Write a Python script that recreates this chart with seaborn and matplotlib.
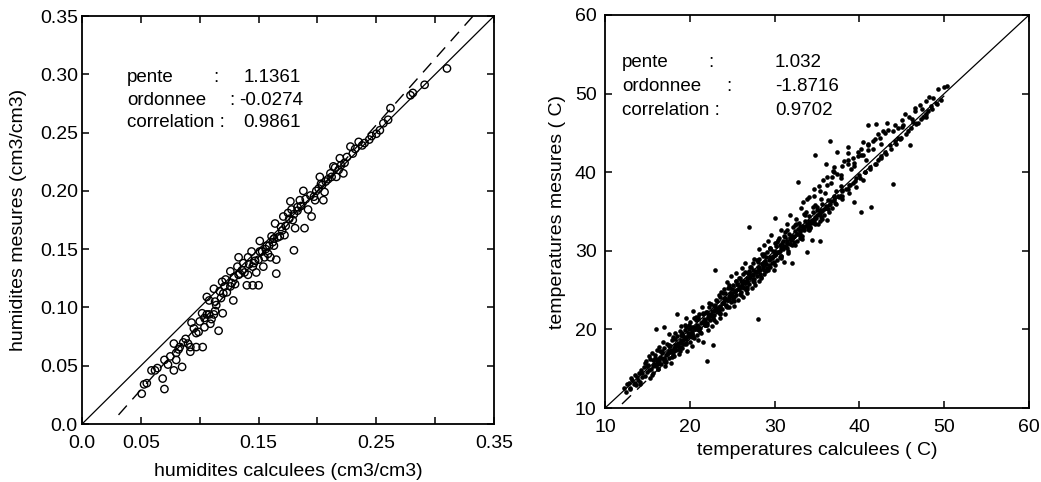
import numpy as np
import pandas as pd
import matplotlib
matplotlib.use("Agg")
import matplotlib.pyplot as plt
import seaborn as sns

# ---------------- data : left panel (soil moisture, cm3/cm3) ----------------
hum_calc = [0.0507, 0.0527, 0.055, 0.059, 0.062, 0.0685, 0.070, 0.070, 0.073, 0.078,
            0.078, 0.080, 0.080, 0.085, 0.083, 0.092, 0.092, 0.090, 0.097, 0.1025,
            0.093, 0.097, 0.099, 0.102, 0.104, 0.106, 0.109, 0.112, 0.116, 0.106,
            0.108, 0.113, 0.114, 0.1195, 0.112, 0.117, 0.119, 0.121, 0.122, 0.126,
            0.1285, 0.126, 0.129, 0.132, 0.133, 0.134, 0.137, 0.140, 0.141, 0.141,
            0.144, 0.145, 0.145, 0.150, 0.148, 0.147, 0.151, 0.151, 0.154, 0.155,
            0.158, 0.160, 0.165, 0.165, 0.157, 0.161, 0.163, 0.163, 0.168, 0.164,
            0.169, 0.172, 0.171, 0.175, 0.177, 0.179, 0.178, 0.180, 0.181, 0.183,
            0.185, 0.188, 0.189, 0.192, 0.195, 0.198, 0.197, 0.201, 0.202, 0.204,
            0.205, 0.206, 0.209, 0.211, 0.2135, 0.216, 0.218, 0.219, 0.222, 0.223,
            0.228, 0.230, 0.235, 0.238, 0.244, 0.246, 0.250, 0.253, 0.256, 0.260,
            0.262, 0.279, 0.281, 0.291, 0.310,
            0.108, 0.110, 0.113, 0.118, 0.120, 0.123, 0.127, 0.130, 0.133, 0.136,
            0.138, 0.142, 0.146, 0.150, 0.153, 0.156, 0.159, 0.162, 0.166, 0.170,
            0.173, 0.176, 0.180, 0.183, 0.186, 0.190, 0.194, 0.199, 0.203, 0.207,
            0.212, 0.215, 0.220, 0.225, 0.232, 0.240, 0.088, 0.095, 0.100, 0.104,
            0.064, 0.075, 0.082, 0.086]
hum_mes = [0.026, 0.034, 0.035, 0.046, 0.046, 0.039, 0.030, 0.055, 0.051, 0.046,
           0.069, 0.061, 0.055, 0.049, 0.066, 0.062, 0.066, 0.069, 0.066, 0.066,
           0.087, 0.078, 0.079, 0.095, 0.083, 0.094, 0.086, 0.094, 0.080, 0.109,
           0.106, 0.105, 0.102, 0.095, 0.116, 0.114, 0.122, 0.118, 0.124, 0.118,
           0.106, 0.131, 0.126, 0.135, 0.143, 0.129, 0.138, 0.119, 0.128, 0.143,
           0.148, 0.135, 0.119, 0.119, 0.130, 0.140, 0.148, 0.157, 0.135, 0.143,
           0.146, 0.143, 0.141, 0.129, 0.153, 0.161, 0.159, 0.153, 0.161, 0.172,
           0.169, 0.162, 0.178, 0.181, 0.191, 0.175, 0.184, 0.149, 0.168, 0.183,
           0.192, 0.200, 0.168, 0.184, 0.178, 0.192, 0.195, 0.202, 0.212, 0.205,
           0.192, 0.199, 0.210, 0.215, 0.221, 0.212, 0.218, 0.228, 0.215, 0.224,
           0.238, 0.232, 0.242, 0.239, 0.244, 0.247, 0.249, 0.252, 0.258, 0.261,
           0.271, 0.282, 0.284, 0.291, 0.305,
           0.094, 0.090, 0.097, 0.108, 0.112, 0.113, 0.121, 0.120, 0.128, 0.132,
           0.130, 0.137, 0.138, 0.141, 0.148, 0.150, 0.153, 0.156, 0.160, 0.166,
           0.170, 0.176, 0.180, 0.186, 0.187, 0.193, 0.196, 0.200, 0.206, 0.208,
           0.212, 0.220, 0.222, 0.229, 0.236, 0.241, 0.073, 0.082, 0.088, 0.091,
           0.048, 0.058, 0.064, 0.070]
hum_stats_labels = ["pente", "ordonnee", "correlation"]
hum_stats_values = ["1.1361", "-0.0274", "0.9861"]
hum_slope, hum_intercept = 1.1361, -0.0274
hum_ticks = [0.0, 0.05, 0.10, 0.15, 0.20, 0.25, 0.30, 0.35]
hum_xticklabels = ["0.0", "0.05", "", "0.15", "", "0.25", "", "0.35"]
hum_yticklabels = ["0.0", "0.05", "0.10", "0.15", "0.20", "0.25", "0.30", "0.35"]

# ---------------- data : right panel (temperatures, C) ----------------
temp_calc = [
    12.2, 12.5, 12.8, 13.0, 13.1, 13.4, 13.5, 13.7, 13.9, 14.0,
    14.1, 14.3, 14.4, 14.6, 14.7, 14.8, 15.0, 15.1, 15.2, 15.3,
    15.4, 15.5, 15.6, 15.7, 15.8, 15.9, 16.0, 16.0, 16.1, 16.2,
    16.3, 16.4, 16.5, 16.6, 16.7, 16.8, 16.9, 17.0, 17.0, 17.1,
    17.2, 17.3, 17.4, 17.5, 17.6, 17.7, 17.8, 17.9, 18.0, 18.0,
    18.1, 18.2, 18.3, 18.4, 18.5, 18.6, 18.7, 18.8, 18.9, 19.0,
    19.0, 19.1, 19.2, 19.3, 19.4, 19.5, 19.6, 19.7, 19.8, 19.9,
    20.0, 20.0, 20.1, 20.2, 20.3, 20.4, 20.5, 20.6, 20.7, 20.8,
    20.9, 21.0, 21.1, 21.2, 21.3, 21.4, 21.5, 21.6, 21.7, 21.8,
    21.9, 22.0, 22.0, 22.1, 22.2, 22.3, 22.4, 22.5, 22.6, 22.7,
    22.8, 22.9, 23.0, 23.0, 23.1, 23.2, 23.3, 23.4, 23.5, 23.6,
    23.7, 23.8, 23.9, 24.0, 24.1, 24.2, 24.3, 24.4, 24.5, 24.6,
    24.7, 24.8, 24.9, 25.0, 25.1, 25.2, 25.3, 25.4, 25.5, 25.6,
    25.7, 25.8, 25.9, 26.0, 26.1, 26.2, 26.3, 26.4, 26.5, 26.6,
    26.7, 26.8, 26.9, 27.0, 27.0, 27.1, 27.2, 27.3, 27.4, 27.5,
    27.6, 27.7, 27.8, 27.9, 28.0, 28.0, 28.1, 28.2, 28.3, 28.4,
    28.5, 28.6, 28.7, 28.8, 28.9, 29.0, 29.1, 29.2, 29.3, 29.4,
    29.5, 29.6, 29.7, 29.8, 29.9, 30.0, 30.1, 30.2, 30.3, 30.4,
    30.5, 30.6, 30.7, 30.8, 30.9, 31.0, 31.1, 31.2, 31.3, 31.4,
    31.5, 31.6, 31.7, 31.8, 31.9, 32.0, 32.1, 32.2, 32.3, 32.4,
    32.5, 32.6, 32.7, 32.8, 32.9, 33.0, 33.1, 33.2, 33.3, 33.4,
    33.5, 33.6, 33.7, 33.8, 33.9, 34.0, 34.1, 34.2, 34.3, 34.4,
    34.5, 34.6, 34.7, 34.8, 34.9, 35.0, 35.1, 35.2, 35.3, 35.4,
    35.5, 35.6, 35.7, 35.8, 35.9, 36.0, 36.1, 36.2, 36.3, 36.4,
    36.5, 36.6, 36.7, 36.8, 36.9, 37.0, 37.2, 37.4, 37.6, 37.8,
    38.0, 38.2, 38.4, 38.6, 38.8, 39.0, 39.2, 39.4, 39.6, 39.8,
    40.0, 40.2, 40.4, 40.6, 40.8, 41.0, 41.2, 41.4, 41.6, 41.8,
    42.0, 42.2, 42.4, 42.6, 42.8, 43.0, 43.3, 43.6, 43.9, 44.2,
    44.5, 44.8, 45.1, 45.4, 45.7, 46.0, 46.3, 46.6, 46.9, 47.2,
    47.5, 47.8, 48.1, 48.4, 48.7, 49.0, 49.3, 49.6, 50.0, 50.3,
    15.2, 15.6, 16.1, 16.4, 16.9, 17.3, 17.6, 18.1, 18.4, 18.9,
    19.2, 19.5, 19.9, 20.3, 20.6, 21.0, 21.3, 21.7, 22.1, 22.4,
    22.8, 23.1, 23.5, 23.9, 24.2, 24.6, 24.9, 25.3, 25.7, 26.0,
    26.4, 26.8, 27.1, 27.5, 27.8, 28.2, 28.6, 28.9, 29.3, 29.7,
    30.0, 30.4, 30.8, 31.1, 31.5, 31.9, 32.2, 32.6, 33.0, 33.3,
    33.7, 34.1, 34.4, 34.8, 35.2, 35.6, 36.0, 36.5, 37.0, 37.5,
    15.9, 16.7, 17.5, 18.3, 19.1, 19.9, 20.7, 21.5, 22.3, 23.1,
    23.9, 24.7, 25.5, 26.3, 27.1, 27.9, 28.7, 29.5, 30.3, 31.1,
    15.5, 16.3, 17.1, 17.9, 18.7, 19.5, 20.3, 21.1, 21.9, 22.7,
    23.5, 24.3, 25.1, 25.9, 26.7, 27.5, 28.3, 29.1, 29.9, 30.7,
    31.5, 32.3, 33.1, 33.9, 34.7, 35.5, 36.3, 37.1, 37.9, 38.7,
    38.9, 39.5, 40.1, 40.7, 41.3, 41.9, 42.5, 43.1, 43.7, 44.3,
    36.8, 37.4, 38.0, 38.6, 39.2, 39.8, 40.4, 41.0, 41.6, 42.2,
    44.9, 45.5, 46.1, 46.7, 47.3, 47.9, 48.5, 49.1, 44.0, 45.0,
    12.6, 13.2, 13.8, 14.4, 15.0, 12.9, 13.5, 14.1, 14.7, 15.3,
    24.0, 24.6, 25.2, 25.8, 26.4, 27.0, 27.6, 28.2, 28.8, 29.4,
    30.0, 30.6, 31.2, 31.8, 32.4, 33.0, 33.6, 34.2, 34.8, 35.4,
    17.0, 17.8, 18.6, 19.4, 20.2, 21.0, 21.8, 22.6, 23.4, 24.2,
    16.2, 16.6, 17.0, 17.4, 17.8, 18.2, 18.6, 19.0, 19.4, 19.8,
    20.2, 20.6, 21.0, 21.4, 21.8, 22.2, 22.6, 23.0, 23.4, 23.8,
    24.2, 24.6, 25.0, 25.4, 25.8, 26.2, 26.6, 27.0, 27.4, 27.8,
    28.2, 28.6, 29.0, 29.4, 29.8, 30.2, 30.6, 31.0, 31.4, 31.8,
    32.2, 32.6, 33.0, 33.4, 33.8, 34.2, 34.6, 35.0, 35.4, 35.8,
    16.5, 17.5, 18.5, 19.5, 20.5, 21.5, 22.5, 23.5, 24.5, 25.5,
    26.5, 27.5, 28.5, 29.5, 30.5, 31.5, 32.5, 33.5, 34.5, 35.5,
    17.2, 18.0, 18.8, 19.6, 20.4, 21.2, 22.0, 22.8, 23.6, 24.4,
    25.2, 26.0, 26.8, 27.6, 28.4, 29.2, 30.0, 30.8, 31.6, 32.4,
    33.2, 34.0, 34.8, 35.6, 36.4, 37.2, 38.0, 38.8, 39.6, 40.4,
    36.2, 37.0, 37.8, 38.6, 39.4, 40.2, 41.0, 41.8, 42.6, 43.4,
    33.8, 34.6, 35.4, 36.2, 37.0, 37.8, 38.6, 39.4, 40.2, 41.0,
    44.2, 45.0, 45.8, 46.6, 47.4, 48.2, 43.0, 44.6, 46.2, 47.8,
    19.0, 21.0, 23.0, 25.0, 27.0, 29.0, 31.0, 33.0, 35.0, 37.0,
    20.0, 22.0, 24.0, 26.0, 28.0, 30.0, 32.0, 34.0, 36.0, 38.0,
]
temp_mes = [
    12.6, 12.1, 13.2, 12.4, 13.8, 13.0, 14.2, 12.9, 13.6, 14.5,
    13.3, 14.8, 13.9, 15.2, 14.1, 16.0, 14.6, 15.5, 16.6, 13.8,
    15.0, 17.0, 16.1, 14.4, 15.6, 16.8, 15.3, 20.0, 17.4, 16.2,
    14.9, 17.8, 16.5, 15.6, 17.2, 18.4, 16.0, 20.3, 17.6, 15.3,
    16.8, 18.2, 17.0, 19.4, 16.3, 17.9, 15.7, 18.6, 17.3, 19.0,
    16.6, 18.0, 19.6, 17.4, 22.0, 18.3, 16.9, 19.8, 17.8, 18.6,
    20.4, 17.6, 19.2, 18.1, 20.6, 18.8, 21.4, 17.3, 19.5, 20.1,
    18.4, 21.0, 19.6, 17.9, 20.3, 22.4, 18.9, 20.0, 21.6, 19.3,
    20.6, 18.7, 21.9, 20.2, 19.5, 22.8, 20.9, 18.4, 21.3, 20.5,
    22.2, 16.0, 20.8, 21.6, 19.9, 23.4, 21.2, 22.0, 20.4, 18.0,
    23.0, 21.8, 27.6, 22.5, 20.9, 23.6, 22.2, 24.4, 21.5, 23.0,
    24.8, 22.6, 23.4, 25.2, 22.0, 24.0, 23.1, 26.0, 23.7, 22.8,
    24.6, 23.5, 26.8, 24.2, 25.6, 23.0, 24.9, 27.2, 24.4, 25.8,
    23.8, 25.1, 26.5, 24.7, 27.8, 25.4, 24.1, 26.2, 28.4, 25.0,
    26.6, 24.6, 27.2, 33.0, 25.8, 26.9, 28.0, 25.3, 27.6, 26.4,
    29.0, 25.7, 27.3, 26.8, 21.3, 28.6, 26.1, 30.2, 27.5, 26.6,
    28.3, 29.4, 27.0, 30.8, 28.7, 27.4, 29.9, 31.2, 28.2, 27.9,
    29.2, 32.0, 28.5, 30.0, 27.6, 29.5, 34.2, 30.6, 28.8, 31.4,
    29.9, 30.7, 32.6, 29.4, 31.0, 30.2, 28.6, 31.8, 30.5, 33.4,
    31.3, 29.7, 32.2, 34.6, 31.6, 30.8, 28.4, 33.0, 31.9, 32.5,
    34.0, 31.2, 32.8, 38.8, 33.6, 32.0, 35.4, 31.5, 33.1, 36.2,
    32.7, 33.8, 35.0, 29.9, 33.3, 34.4, 36.8, 32.9, 33.6, 31.4,
    34.9, 37.0, 33.8, 42.2, 34.2, 35.6, 33.4, 38.2, 34.7, 31.2,
    35.2, 36.0, 39.0, 34.6, 37.4, 35.4, 41.0, 33.9, 36.4, 35.8,
    44.0, 36.3, 38.6, 35.4, 40.2, 36.8, 37.6, 42.6, 36.9, 38.2,
    37.7, 41.4, 37.9, 43.2, 38.4, 40.4, 38.6, 36.2, 39.2, 42.0,
    39.6, 35.0, 43.8, 40.0, 41.6, 46.0, 40.4, 35.6, 43.0, 41.0,
    46.1, 41.6, 44.4, 42.0, 45.2, 42.6, 46.2, 43.4, 38.5, 44.0,
    45.6, 44.2, 46.0, 47.4, 45.2, 43.4, 46.4, 47.8, 46.2, 48.6,
    47.0, 49.0, 47.8, 48.4, 49.4, 48.8, 50.6, 49.2, 50.8, 51.0,
    14.8, 15.3, 15.8, 16.0, 16.4, 16.9, 17.2, 17.6, 18.0, 18.5,
    18.6, 19.0, 19.2, 19.8, 20.1, 20.4, 20.8, 21.1, 21.5, 21.8,
    22.3, 22.7, 22.9, 23.3, 23.7, 24.0, 24.4, 24.7, 25.2, 25.4,
    25.9, 26.2, 26.7, 27.0, 27.4, 27.7, 28.0, 28.5, 28.8, 29.1,
    29.6, 29.8, 30.3, 30.6, 31.0, 31.4, 31.7, 32.1, 32.4, 32.8,
    33.2, 33.5, 33.9, 34.3, 34.7, 35.1, 35.5, 36.0, 36.5, 37.0,
    16.4, 17.0, 17.9, 18.8, 19.6, 20.6, 21.2, 22.1, 22.8, 23.8,
    24.6, 25.3, 26.2, 27.0, 27.9, 28.8, 29.6, 30.4, 31.1, 31.9,
    14.2, 15.0, 15.9, 16.5, 17.5, 18.2, 19.0, 19.9, 20.6, 21.4,
    22.1, 23.0, 23.8, 24.5, 25.4, 26.1, 27.0, 27.8, 28.6, 29.3,
    30.4, 31.1, 31.9, 32.8, 33.6, 34.3, 35.3, 36.1, 37.0, 37.8,
    38.4, 38.9, 39.3, 40.0, 40.6, 41.1, 41.8, 42.3, 43.0, 43.6,
    39.4, 39.8, 40.8, 41.0, 41.8, 42.6, 42.2, 43.6, 44.0, 44.8,
    44.3, 44.9, 45.6, 46.1, 46.8, 47.4, 48.0, 48.7, 45.2, 46.6,
    13.0, 13.6, 14.0, 14.4, 15.4, 12.6, 13.2, 13.0, 15.7, 16.2,
    23.6, 25.6, 24.1, 26.6, 25.3, 27.4, 26.4, 29.0, 27.6, 30.2,
    31.0, 29.2, 32.4, 30.9, 33.3, 31.6, 34.6, 33.0, 35.8, 33.8,
    16.2, 17.4, 17.9, 19.9, 19.4, 21.6, 20.6, 22.3, 22.5, 24.6,
    15.6, 16.3, 16.2, 17.0, 17.1, 17.8, 18.1, 18.3, 18.9, 19.2,
    19.6, 20.3, 20.1, 21.0, 21.2, 21.9, 21.7, 22.6, 22.8, 23.4,
    23.9, 24.3, 24.6, 25.0, 25.5, 25.8, 26.0, 26.6, 26.9, 27.3,
    27.9, 28.4, 28.3, 29.0, 29.3, 29.9, 30.0, 30.5, 31.0, 31.5,
    31.8, 32.2, 32.7, 32.9, 33.4, 33.7, 34.1, 34.5, 34.9, 35.3,
    17.3, 18.0, 19.2, 20.3, 21.4, 22.0, 23.2, 24.1, 25.3, 26.1,
    27.3, 28.4, 29.6, 30.4, 31.6, 32.6, 33.4, 34.7, 35.6, 36.6,
    15.9, 16.8, 17.3, 18.3, 19.1, 19.7, 20.5, 21.2, 22.0, 22.9,
    23.6, 24.4, 25.1, 26.0, 26.7, 27.6, 28.2, 29.1, 30.0, 30.8,
    31.9, 32.6, 33.4, 34.1, 35.0, 35.9, 36.6, 37.3, 38.1, 39.0,
    38.4, 40.6, 39.6, 42.4, 40.8, 43.0, 42.8, 44.2, 43.6, 45.4,
    36.6, 37.8, 37.6, 39.4, 40.0, 39.2, 41.6, 41.2, 42.2, 43.4,
    46.0, 45.8, 47.0, 48.2, 48.0, 49.6, 45.0, 44.4, 46.8, 47.0,
    19.3, 21.3, 23.1, 25.2, 27.2, 29.2, 31.3, 33.2, 35.2, 37.0,
    20.2, 22.2, 24.0, 26.1, 27.9, 29.9, 31.9, 33.8, 35.7, 37.6,
]
temp_stats_labels = ["pente", "ordonnee", "correlation"]
temp_stats_values = ["1.032", "-1.8716", "0.9702"]
temp_slope, temp_intercept = 1.032, -1.8716
temp_ticks = [10, 20, 30, 40, 50, 60]

# ---------------- figure ----------------
sns.set_style("ticks")
plt.rcParams["font.family"] = ["Liberation Sans", "DejaVu Sans"]
plt.rcParams["axes.linewidth"] = 1.3
for key in ("text.color", "axes.labelcolor", "xtick.color", "ytick.color",
            "axes.edgecolor"):
    plt.rcParams[key] = "black"

fig = plt.figure(figsize=(10.41, 4.82), dpi=100)
ax1 = fig.add_axes([0.0788, 0.1203, 0.3958, 0.8465])
ax2 = fig.add_axes([0.5812, 0.1535, 0.4073, 0.8154])

df_h = pd.DataFrame({"calc": hum_calc, "mes": hum_mes})
df_t = pd.DataFrame({"calc": temp_calc, "mes": temp_mes})

TXT = 13.5
TICK = 14

# left panel
sns.scatterplot(data=df_h, x="calc", y="mes", ax=ax1, marker="o", s=28,
                facecolor="none", edgecolor="black", linewidth=1.0, legend=False)
lim_h = (hum_ticks[0], hum_ticks[-1])
sns.lineplot(x=list(lim_h), y=list(lim_h), ax=ax1, color="black", linewidth=0.9)
x0 = 0.031
x1 = (lim_h[1] - hum_intercept) / hum_slope
xr = np.array([x0, x1])
ax1.plot(xr, hum_slope * xr + hum_intercept, color="black", linewidth=1.0,
         dashes=(9, 6))
ax1.set_xlim(lim_h)
ax1.set_ylim(lim_h)
ax1.set_xticks(hum_ticks)
ax1.set_xticklabels(hum_xticklabels)
ax1.set_yticks(hum_ticks)
ax1.set_yticklabels(hum_yticklabels)
ax1.set_xlabel("humidites calculees (cm3/cm3)", fontsize=TICK, labelpad=8)
ax1.set_ylabel("humidites mesures (cm3/cm3)", fontsize=TICK, labelpad=9)

# right panel
sns.scatterplot(data=df_t, x="calc", y="mes", ax=ax2, marker="o", s=11,
                color="black", linewidth=0, legend=False)
lim_t = (temp_ticks[0], temp_ticks[-1])
sns.lineplot(x=list(lim_t), y=list(lim_t), ax=ax2, color="black", linewidth=0.9)
xt = np.array([12.0, 50.0])
ax2.plot(xt, temp_slope * xt + temp_intercept, color="black", linewidth=1.0,
         dashes=(9, 6))
ax2.set_xlim(lim_t)
ax2.set_ylim(lim_t)
ax2.set_xticks(temp_ticks)
ax2.set_yticks(temp_ticks)
ax2.set_xlabel("temperatures calculees ( C)", fontsize=TICK, labelpad=4)
ax2.set_ylabel("temperatures mesures ( C)", fontsize=TICK, labelpad=6)

for ax in (ax1, ax2):
    ax.tick_params(direction="in", length=5, width=1.1, labelsize=TICK,
                   top=True, right=True, color="black", labelcolor="black")
    ax.tick_params(axis="x", pad=8)
    ax.tick_params(axis="y", pad=3)
    for sp in ax.spines.values():
        sp.set_visible(True)
        sp.set_linewidth(1.3)
        sp.set_color("black")
ax2.tick_params(axis="y", pad=6)

# statistics text
ys_h = [0.850, 0.794, 0.738]
for lab, val, y in zip(hum_stats_labels, hum_stats_values, ys_h):
    if lab == "correlation":
        ax1.text(0.109, y, "correlation :", transform=ax1.transAxes, fontsize=TXT, va="center")
    else:
        ax1.text(0.109, y, lab, transform=ax1.transAxes, fontsize=TXT, va="center")
        cx = 0.318 if lab == "pente" else 0.357
        ax1.text(cx, y, ":", transform=ax1.transAxes, fontsize=TXT, va="center")
    vx = 0.381 if val.startswith("-") else 0.391
    ax1.text(vx, y, val, transform=ax1.transAxes, fontsize=TXT, va="center")

ys_t = [0.878, 0.817, 0.756]
for lab, val, y in zip(temp_stats_labels, temp_stats_values, ys_t):
    if lab == "correlation":
        ax2.text(0.040, y, "correlation :", transform=ax2.transAxes, fontsize=TXT, va="center")
    else:
        ax2.text(0.040, y, lab, transform=ax2.transAxes, fontsize=TXT, va="center")
        cx = 0.243 if lab == "pente" else 0.286
        ax2.text(cx, y, ":", transform=ax2.transAxes, fontsize=TXT, va="center")
    ax2.text(0.401, y, val, transform=ax2.transAxes, fontsize=TXT, va="center")

fig.savefig("out.png", dpi=100)
